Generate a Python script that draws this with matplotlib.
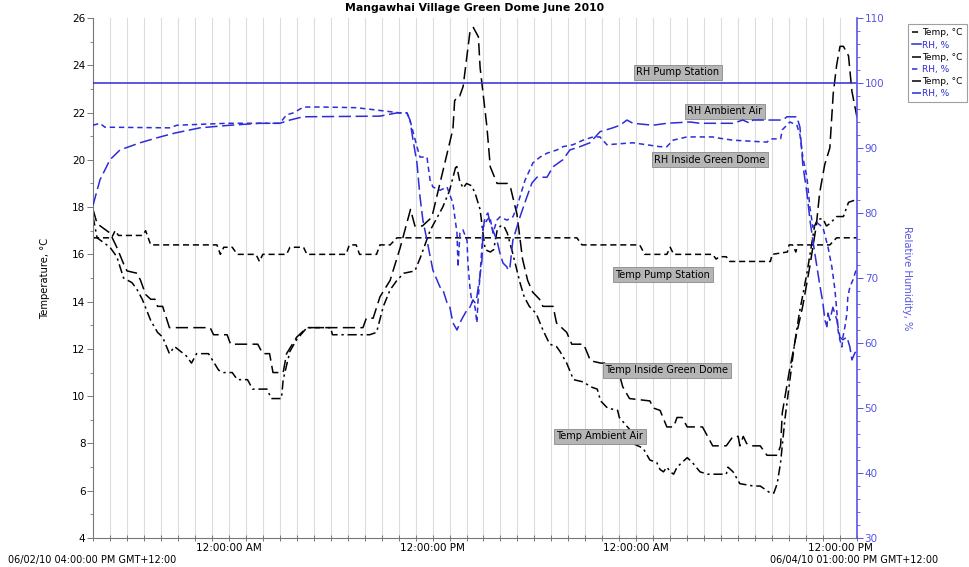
import numpy as np
import pandas as pd
import matplotlib
matplotlib.use("Agg")
from matplotlib import pyplot as plt
import matplotlib.dates as mdates
from matplotlib.ticker import MultipleLocator

start = pd.Timestamp("2010-06-02 16:00")
end = pd.Timestamp("2010-06-04 13:00")

# values, time in hours after start
pump_temp_h = [0, 1.1, 1.3, 1.5, 2.9, 3.1, 3.4, 7.3, 7.5, 7.7, 8.2, 8.5, 9.6, 9.8, 10.0, 11.4, 11.6, 12.4,
               12.6, 14.9, 15.1, 15.5, 15.7, 16.7, 16.9, 17.5, 17.9, 28.5, 28.8, 32.2, 32.5, 33.8, 34.0,
               34.2, 36.5, 36.7, 36.9, 37.3, 37.5, 39.9, 40.0, 40.9, 41.0, 41.2, 41.4, 41.5, 43.4, 43.8, 45]
pump_temp = [16.7, 16.7, 17.0, 16.8, 16.8, 17.0, 16.4, 16.4, 16.0, 16.3, 16.3, 16.0, 16.0, 15.7, 16.0, 16.0,
             16.3, 16.3, 16.0, 16.0, 16.4, 16.4, 16.0, 16.0, 16.4, 16.4, 16.7, 16.7, 16.4, 16.4, 16.0, 16.0,
             16.3, 16.0, 16.0, 15.8, 15.9, 15.9, 15.7, 15.7, 16.0, 16.1, 16.4, 16.4, 16.1, 16.4, 16.4, 16.7, 16.7]

dome_temp_h = [0, 0.24, 1.0, 1.4, 1.8, 2.0, 2.6, 2.8, 3.1, 3.4, 3.65, 3.8, 4.1, 4.5, 6.9, 7.1, 7.9, 8.1, 9.7,
               10.0, 10.4, 10.6, 11.2, 11.4, 12.0, 12.6, 15.9, 16.1, 16.5, 16.9, 17.5, 18.1, 18.7, 18.96,
               19.4, 19.85, 20.0, 21.2, 21.3, 21.5, 21.6, 21.8, 22.2, 22.4, 22.7, 22.8, 23.2, 23.4, 23.8,
               24.4, 24.6, 24.97, 25.3, 25.6, 25.9, 26.3, 26.5, 27.1, 27.3, 27.9, 28.2, 28.9, 29.3, 29.9,
               30.3, 30.9, 31.2, 31.6, 32.8, 33.0, 33.4, 33.8, 34.2, 34.4, 34.7, 35.0, 35.9, 36.2, 36.5,
               37.3, 37.7, 38.0, 38.1, 38.3, 38.5, 38.7, 39.3, 39.7, 40.3, 40.5, 40.6, 41.0, 41.4, 41.8,
               42.2, 42.6, 42.8, 43.1, 43.4, 43.6, 43.8, 44.0, 44.2, 44.5, 44.7, 45]
dome_temp = [17.9, 17.3, 16.9, 16.3, 15.6, 15.3, 15.2, 14.9, 14.3, 14.1, 14.1, 13.8, 13.8, 12.9, 12.9, 12.6,
             12.6, 12.2, 12.2, 11.8, 11.8, 11.0, 11.0, 11.8, 12.5, 12.9, 12.9, 13.3, 13.3, 14.2, 14.9, 16.3,
             17.9, 17.2, 17.2, 17.5, 17.7, 21.3, 22.5, 22.7, 22.7, 23.1, 25.4, 25.6, 25.2, 23.9, 21.4, 19.7,
             19.0, 19.0, 18.8, 17.7, 15.8, 14.9, 14.4, 14.1, 13.8, 13.8, 13.1, 12.7, 12.2, 12.2, 11.5, 11.4,
             11.4, 11.2, 10.4, 9.9, 9.8, 9.5, 9.4, 8.7, 8.7, 9.1, 9.1, 8.7, 8.7, 8.3, 7.9, 7.9, 8.3, 8.3,
             7.9, 8.3, 8.0, 7.9, 7.9, 7.5, 7.5, 7.9, 9.3, 11.0, 12.5, 13.8, 15.4, 17.2, 18.6, 19.8, 20.5,
             22.8, 24.0, 24.8, 24.8, 24.4, 22.9, 21.8]

amb_temp_h = [0, 0.24, 1.0, 1.4, 1.8, 2.3, 2.6, 2.9, 3.4, 3.8, 4.1, 4.5, 4.8, 5.5, 5.8, 6.1, 6.8, 7.4, 7.7,
              8.2, 8.5, 9.1, 9.4, 10.25, 10.5, 11.1, 11.2, 11.6, 12.0, 12.6, 14.0, 14.1, 16.3, 16.7, 17.1,
              17.5, 17.9, 18.3, 18.96, 19.3, 19.85, 20.6, 21.0, 21.4, 21.6, 21.8, 22.0, 22.3, 22.5, 22.8,
              22.97, 23.1, 23.4, 23.6, 23.8, 24.0, 24.2, 24.4, 24.7, 25.15, 25.4, 25.7, 26.1, 26.5, 26.9,
              27.3, 27.5, 27.9, 28.3, 28.9, 29.3, 29.7, 29.9, 30.3, 30.9, 31.0, 31.6, 31.8, 32.4, 32.8,
              33.2, 33.4, 33.6, 33.8, 34.0, 34.2, 34.4, 34.7, 35.0, 35.3, 35.75, 36.2, 37.3, 37.4, 37.7,
              38.1, 38.9, 39.3, 39.5, 39.9, 40.1, 40.3, 40.5, 40.75, 41.05, 41.3, 41.6, 42.05, 42.3, 42.5,
              42.7, 43.0, 43.2, 43.4, 43.8, 44.2, 44.5, 44.9, 45]
amb_temp = [17.6, 16.7, 16.3, 15.9, 15.0, 14.8, 14.5, 14.1, 13.2, 12.7, 12.5, 11.8, 12.1, 11.7, 11.4, 11.8,
            11.8, 11.1, 11.0, 11.0, 10.7, 10.7, 10.3, 10.3, 9.9, 9.9, 10.7, 11.9, 12.4, 12.9, 12.9, 12.6,
            12.6, 12.7, 13.8, 14.5, 14.9, 15.2, 15.3, 15.9, 17.0, 18.0, 18.7, 19.8, 19.1, 18.8, 19.0, 18.9,
            18.6, 17.9, 16.9, 16.2, 16.1, 16.2, 17.0, 17.2, 17.2, 16.9, 16.1, 14.8, 14.2, 13.8, 13.5, 12.8,
            12.2, 12.1, 11.9, 11.4, 10.7, 10.6, 10.4, 10.3, 9.8, 9.5, 9.4, 9.1, 8.6, 8.0, 7.8, 7.3, 7.2,
            6.9, 6.8, 7.0, 6.8, 6.7, 7.0, 7.2, 7.4, 7.2, 6.8, 6.7, 6.7, 7.0, 6.8, 6.3, 6.2, 6.2, 6.1, 5.9,
            5.9, 6.3, 7.2, 9.0, 10.7, 12.1, 13.5, 15.2, 16.3, 17.2, 17.5, 17.5, 17.2, 17.3, 17.6, 17.6,
            18.2, 18.3, 18.3]

pump_rh_h = [0, 45]
pump_rh = [100, 100]

amb_rh_h = [0, 0.41, 1.0, 1.59, 2.77, 3.95, 4.83, 6.3, 8.07, 9.83, 11.0, 11.6, 12.37, 16.9, 17.9, 18.49,
            18.67, 18.85, 19.08, 19.26, 19.43, 19.67, 20.02, 20.26, 20.44, 20.61, 20.85, 21.02, 21.2,
            21.44, 21.61, 21.79, 22.03, 22.2, 22.38, 22.5, 22.61, 22.67, 22.79, 22.91, 22.97, 23.09, 23.26,
            23.38, 23.79, 23.97, 24.15, 24.38, 24.44, 24.56, 24.73, 25.15, 25.56, 25.85, 26.15, 26.74,
            27.09, 27.68, 28.09, 28.68, 29.27, 29.86, 30.62, 31.04, 31.45, 31.8, 32.98, 33.8, 35.16,
            35.75, 37.69, 38.28, 38.69, 38.87, 40.64, 40.87, 41.46, 41.64, 41.81, 42.05, 42.23, 42.4,
            42.64, 42.81, 42.99, 43.11, 43.23, 43.29, 43.4, 43.58, 43.82, 43.99, 44.17, 44.41, 44.58,
            44.7, 44.88, 45]
amb_rh = [81.2, 85.1, 88.2, 89.7, 90.8, 91.7, 92.3, 93.1, 93.5, 93.8, 93.8, 94.3, 94.8, 94.9, 95.4, 95.4,
          94.3, 91.2, 87.7, 82.5, 78.9, 75.8, 71.2, 69.7, 68.6, 68.2, 66.2, 65.5, 63.1, 62.0, 63.1, 64.0,
          65.1, 65.5, 66.6, 66.2, 67.1, 68.2, 70.2, 72.8, 77.4, 79.4, 80.0, 78.5, 75.8, 73.8, 72.3, 71.7,
          71.2, 71.7, 75.8, 79.4, 82.5, 84.6, 85.5, 85.5, 87.1, 88.2, 89.7, 90.2, 90.8, 92.5, 93.1, 93.5,
          94.3, 93.8, 93.5, 93.8, 94.0, 93.8, 93.8, 94.3, 93.8, 94.3, 94.3, 94.8, 94.8, 93.2, 87.4, 83.1,
          78.9, 75.8, 71.7, 68.9, 66.2, 63.5, 62.5, 64.6, 63.5, 65.5, 63.5, 60.9, 60.5, 60.9, 59.4, 57.4,
          58.5, 58.9]

dome_rh_h = [0, 0.4, 0.7, 4.5, 4.95, 7.9, 11.0, 11.4, 11.8, 12.4, 13.5, 15.5, 16.5, 18.08, 18.49, 18.67,
             19.08, 19.26, 19.67, 19.85, 20.02, 20.44, 20.85, 21.2, 21.44, 21.5, 21.61, 21.79, 22.03, 22.08,
             22.2, 22.32, 22.38, 22.5, 22.61, 22.67, 22.79, 22.91, 22.97, 23.2, 23.38, 23.56, 23.79, 23.97,
             24.38, 24.73, 24.97, 25.15, 25.44, 25.91, 26.33, 26.74, 27.33, 27.68, 28.27, 28.86, 29.45,
             29.86, 30.27, 31.8, 33.39, 33.8, 34.16, 34.98, 35.75, 36.5, 36.9, 37.7, 39.7, 39.9, 40.5,
             40.6, 41.05, 41.46, 41.64, 41.81, 42.05, 42.23, 42.34, 42.4, 42.64, 42.99, 43.29, 43.52, 43.7,
             43.82, 43.88, 43.99, 44.11, 44.17, 44.29, 44.41, 44.46, 44.58, 44.76, 45]
dome_rh = [93.5, 93.8, 93.2, 93.1, 93.5, 93.8, 93.8, 95.1, 95.4, 96.3, 96.3, 96.2, 95.9, 95.4, 95.4, 94.3,
           90.2, 88.6, 88.6, 85.1, 84.0, 83.5, 84.0, 81.5, 76.9, 71.7, 76.9, 77.4, 75.8, 72.3, 68.6, 66.2,
           66.6, 65.5, 63.1, 66.2, 70.2, 74.8, 77.8, 78.9, 79.4, 76.9, 78.9, 79.4, 78.9, 79.4, 80.9, 82.5,
           85.0, 87.7, 88.6, 89.2, 89.7, 90.2, 90.5, 91.2, 91.7, 91.7, 90.5, 90.8, 90.2, 90.2, 91.2, 91.7,
           91.7, 91.7, 91.5, 91.2, 90.9, 91.4, 91.4, 92.8, 94.0, 93.5, 92.0, 88.6, 85.5, 80.8, 78.9, 77.8,
           78.5, 77.8, 74.8, 71.7, 68.2, 64.6, 62.0, 60.5, 59.4, 60.9, 62.5, 64.6, 67.1, 68.6, 69.7, 71.7]

# label boxes: text, hours, temperature
labels = ["RH Pump Station", "RH Ambient Air", "RH Inside Green Dome",
          "Temp Pump Station", "Temp Inside Green Dome", "Temp Ambient Air"]
label_h = [34.45, 37.2, 36.34, 33.57, 33.8, 29.86]
label_t = [23.7, 22.06, 20.0, 15.13, 11.1, 8.31]


def to_time(h):
    return start + pd.to_timedelta(np.array(h, dtype=float), unit="h")


blue = "#2c2cd8"
axblue = "#5555e6"

fig = plt.figure(figsize=(9.7, 5.67), dpi=100)
ax = fig.add_axes([0.0959, 0.0511, 0.7876, 0.9172])
ax2 = ax.twinx()

ln_pt, = ax.plot(to_time(pump_temp_h), pump_temp, color="black", lw=1.1, dashes=(4, 2.5), label="Temp, °C")
ln_dt, = ax.plot(to_time(dome_temp_h), dome_temp, color="black", lw=1.1, dashes=(8, 3.5), label="Temp, °C")
ln_at, = ax.plot(to_time(amb_temp_h), amb_temp, color="black", lw=1.1, dashes=(6, 2.5, 1.5, 2.5), label="Temp, °C")

ln_pr, = ax2.plot(to_time(pump_rh_h), pump_rh, color=blue, lw=1.1, label="RH, %")
ln_ar, = ax2.plot(to_time(amb_rh_h), amb_rh, color=blue, lw=1.1, dashes=(8, 3), label="RH, %")
ln_dr, = ax2.plot(to_time(dome_rh_h), dome_rh, color=blue, lw=1.1, dashes=(3.5, 2.5), label="RH, %")

ax.set_xlim(start, end)
ax.set_ylim(4, 26)
ax2.set_ylim(30, 110)

ax.xaxis.set_major_locator(mdates.HourLocator(byhour=[0, 12]))
ax.xaxis.set_major_formatter(mdates.DateFormatter("%I:%M:%S %p"))
ax.xaxis.set_minor_locator(mdates.HourLocator())
ax.grid(True, axis="x", which="both", color="#dcdcdc", lw=0.8)
ax.set_axisbelow(True)

ax.yaxis.set_major_locator(MultipleLocator(2))
ax.yaxis.set_minor_locator(MultipleLocator(1))
ax2.yaxis.set_major_locator(MultipleLocator(10))
ax2.yaxis.set_minor_locator(MultipleLocator(2))

ax.tick_params(axis="x", which="both", direction="inout", length=4, width=0.7, color="#777777",
               labelsize=7.5, pad=1.5)
ax.tick_params(axis="y", which="major", length=4, width=0.7, color="#777777", labelsize=7.5, pad=1.5)
ax.tick_params(axis="y", which="minor", length=2, width=0.6, color="#777777")
ax2.tick_params(axis="y", which="major", length=4, width=0.7, color=axblue, labelcolor=axblue,
                labelsize=7.5, pad=1.5)
ax2.tick_params(axis="y", which="minor", length=2, width=0.6, color=axblue)

for a in (ax, ax2):
    a.spines["top"].set_visible(False)
ax.spines["right"].set_visible(False)
ax2.spines["left"].set_visible(False)
ax2.spines["bottom"].set_visible(False)
ax.spines["left"].set_color("#777777")
ax.spines["bottom"].set_color("#777777")
ax2.spines["right"].set_color(axblue)
ax2.spines["right"].set_linewidth(1.2)

ax.set_title("Mangawhai Village Green Dome June 2010", fontsize=7.8, fontweight="bold", pad=5)
ax.set_ylabel("Temperature, °C", fontsize=7.2, labelpad=16)
ax2.set_ylabel("Relative Humidity, %", fontsize=7.2, color=axblue, rotation=270, labelpad=20)

for txt, h, t in zip(labels, label_h, label_t):
    ax.text(to_time([h])[0], t, txt, fontsize=7, ha="center", va="center",
            bbox=dict(boxstyle="square,pad=0.25", fc="#b5b5b5", ec="#8a8a8a", lw=0.6))

leg = fig.legend([ln_pt, ln_pr, ln_dt, ln_dr, ln_at, ln_ar],
                 ["Temp, °C", "RH, %", "Temp, °C", "RH, %", "Temp, °C", "RH, %"],
                 loc="upper left", bbox_to_anchor=(0.931, 0.965), fontsize=6.5, handlelength=1.0,
                 handletextpad=0.2, labelspacing=0.35, borderpad=0.45, frameon=True, fancybox=False,
                 labelcolor="linecolor")
leg.get_frame().set_edgecolor("#888888")
leg.get_frame().set_linewidth(0.8)

fig.text(0.008, 0.003, "06/02/10 04:00:00 PM GMT+12:00", fontsize=7, ha="left", va="bottom")
fig.text(0.967, 0.003, "06/04/10 01:00:00 PM GMT+12:00", fontsize=7, ha="right", va="bottom")

fig.savefig("out.png", dpi=100)
